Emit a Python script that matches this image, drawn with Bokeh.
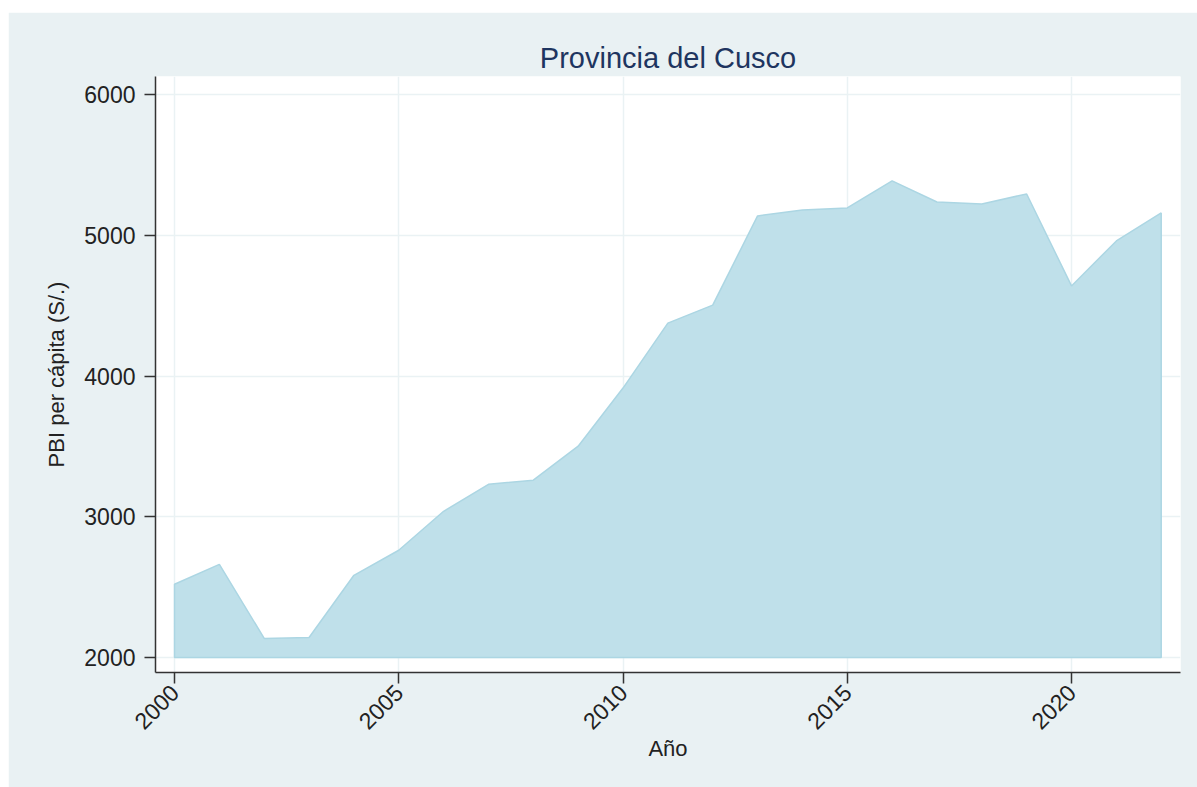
import math
from bokeh.plotting import figure
from bokeh.models import FixedTicker, Range1d, Spacer
from bokeh.layouts import column, row
from bokeh.embed import file_html
from bokeh.resources import INLINE

years = [2000, 2001, 2002, 2003, 2004, 2005, 2006, 2007, 2008, 2009, 2010,
         2011, 2012, 2013, 2014, 2015, 2016, 2017, 2018, 2019, 2020, 2021, 2022]
pbi = [2520, 2662, 2135, 2142, 2584, 2762, 3039, 3231, 3260, 3502, 3915,
       4377, 4505, 5139, 5181, 5196, 5388, 5238, 5224, 5295, 4641, 4961, 5160]
base_value = 2000
x_ticks = [2000, 2005, 2010, 2015, 2020]
y_ticks = [2000, 3000, 4000, 5000, 6000]

title_text = "Provincia del Cusco"
x_label = "Año"
y_label = "PBI per cápita (S/.)"

BG = "#e9f1f3"
FONT = "Liberation Sans"

p = figure(width=1189, height=775, output_backend="svg", toolbar_location=None,
           x_range=Range1d(1999.576, 2022.43), y_range=Range1d(1893, 6130),
           min_border_left=147, min_border_right=17, min_border_top=64,
           min_border_bottom=115, title=title_text)

p.background_fill_color = "white"
p.border_fill_color = BG
p.outline_line_color = None

p.title.align = "center"
p.title.text_font = FONT
p.title.text_font_size = "29px"
p.title.text_font_style = "normal"
p.title.text_color = "#1e3560"
p.title.standoff = 6

xs = [years[0]] + years + [years[-1]]
ys = [base_value] + pbi + [base_value]
p.patch(xs, ys, fill_color="#bfe0ea", line_color="#acd6e3", line_width=1.5)

p.xaxis.ticker = FixedTicker(ticks=x_ticks)
p.yaxis.ticker = FixedTicker(ticks=y_ticks)
p.xgrid.ticker = FixedTicker(ticks=x_ticks)
p.ygrid.ticker = FixedTicker(ticks=y_ticks)
p.xaxis.minor_tick_line_color = None
p.yaxis.minor_tick_line_color = None
p.grid.grid_line_color = "#eaf2f4"
p.grid.grid_line_width = 1.5
p.grid.level = "image"

for ax in (p.xaxis[0], p.yaxis[0]):
    ax.axis_line_color = "#333333"
    ax.axis_line_width = 1.5
    ax.major_tick_line_color = "#333333"
    ax.major_tick_line_width = 1.5
    ax.major_tick_out = 11
    ax.major_tick_in = 0
    ax.major_label_text_font = FONT
    ax.major_label_text_font_size = "23px"
    ax.major_label_text_color = "#222222"
    ax.axis_label_text_font = FONT
    ax.axis_label_text_font_size = "22px"
    ax.axis_label_text_font_style = "normal"
    ax.axis_label_text_color = "#222222"

p.xaxis.axis_label = x_label
p.yaxis.axis_label = y_label
p.xaxis.major_label_orientation = math.pi / 4
p.yaxis.major_label_orientation = "horizontal"
p.xaxis.major_label_standoff = 5
p.yaxis.major_label_standoff = 9
p.xaxis.axis_label_standoff = -4
p.yaxis.axis_label_standoff = 12

layout = column(Spacer(height=12, width=1197),
                row(Spacer(width=8, height=775), p, spacing=0),
                spacing=0)
open("out.html", "w").write(file_html(layout, INLINE))
